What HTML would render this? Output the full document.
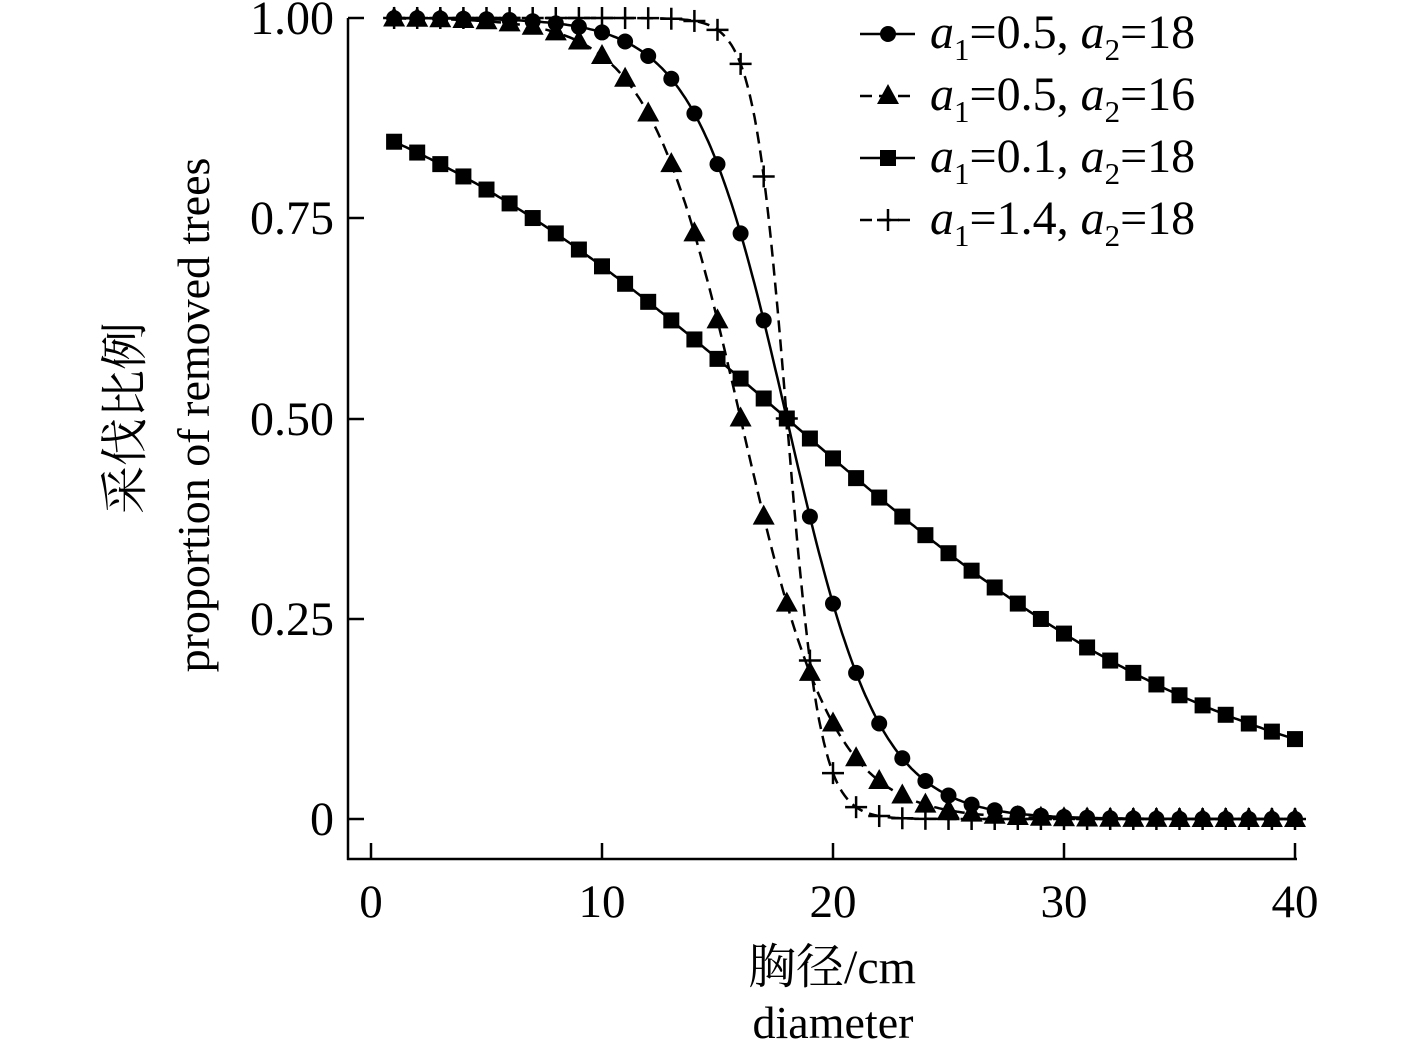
<!DOCTYPE html>
<html><head><meta charset="utf-8"><style>
html,body{margin:0;padding:0;background:#fff;}
svg{display:block;}
text{font-family:"Liberation Serif","Noto Serif CJK SC",serif;fill:#000;}
</style></head><body>
<svg id="s" width="1417" height="1043" xmlns="http://www.w3.org/2000/svg">
<g stroke="#000" stroke-width="2.5" fill="none">
<line x1="348" y1="18" x2="348" y2="860"/>
<line x1="347" y1="859" x2="1297" y2="859"/>
<line x1="348" y1="18" x2="364" y2="18"/>
<line x1="348" y1="218" x2="364" y2="218"/>
<line x1="348" y1="419" x2="364" y2="419"/>
<line x1="348" y1="619" x2="364" y2="619"/>
<line x1="348" y1="819" x2="364" y2="819"/>
<line x1="371" y1="859" x2="371" y2="843"/>
<line x1="602" y1="859" x2="602" y2="843"/>
<line x1="833" y1="859" x2="833" y2="843"/>
<line x1="1064" y1="859" x2="1064" y2="843"/>
<line x1="1295" y1="859" x2="1295" y2="843"/>
</g>
<g font-size="48" text-anchor="end">
<text x="334" y="34">1.00</text>
<text x="334" y="234">0.75</text>
<text x="334" y="435">0.50</text>
<text x="334" y="635">0.25</text>
<text x="334" y="835">0</text>
</g>
<g font-size="47" text-anchor="middle">
<text x="371" y="917">0</text>
<text x="602" y="917">10</text>
<text x="833" y="917">20</text>
<text x="1064" y="917">30</text>
<text x="1295" y="917">40</text>
<text x="832" y="983" font-size="48">胸径/cm</text>
<text x="833" y="1038" font-size="46">diameter</text>
</g>
<text transform="translate(141,418) rotate(-90)" font-size="48" text-anchor="middle">采伐比例</text>
<text transform="translate(209,415) rotate(-90)" font-size="46" text-anchor="middle">proportion of removed trees</text>
<g id="series"></g>
<g font-size="48" font-style="italic" id="leg"></g>
</svg>
<script>
var NS="http://www.w3.org/2000/svg",g=document.getElementById("series");
function X(d){return 371+d*23.1;}function Y(p){return 819-p*801;}
function el(t,a,par){var e=document.createElementNS(NS,t);for(var k in a)e.setAttribute(k,a[k]);(par||g).appendChild(e);return e;}
function marker(type,x,y,par){
 if(type=="c")el("circle",{cx:x,cy:y,r:8,fill:"#000"},par);
 else if(type=="t")el("polygon",{points:(x)+","+(y-12)+" "+(x-11)+","+(y+8)+" "+(x+11)+","+(y+8),fill:"#000"},par);
 else if(type=="s")el("rect",{x:x-8,y:y-8,width:16,height:16,fill:"#000"},par);
 else {el("line",{x1:x-11,y1:y,x2:x+11,y2:y,stroke:"#000","stroke-width":2.5},par);el("line",{x1:x,y1:y-11,x2:x,y2:y+11,stroke:"#000","stroke-width":2.5},par);}
}
var S=[[0.5,18,"c",""],[0.5,16,"t","12,7"],[0.1,18,"s",""],[1.4,18,"p","12,7"]];
S.forEach(function(s){
 var pts=[];for(var d=1;d<=40;d+=0.1){var p=1/(1+Math.exp(s[0]*(d-s[1])));pts.push(X(d).toFixed(1)+","+Y(p).toFixed(1));}
 var a={points:pts.join(" "),fill:"none",stroke:"#000","stroke-width":2.5};if(s[3])a["stroke-dasharray"]=s[3];
 el("polyline",a);
 for(var d=1;d<=40;d++){var p=1/(1+Math.exp(s[0]*(d-s[1])));marker(s[2],X(d),Y(p));}
});
var L=document.getElementById("leg");
var labs=[["0.5","18"],["0.5","16"],["0.1","18"],["1.4","18"]];
S.forEach(function(s,i){
 var y=34+i*62;
 var a={x1:860,y1:y,x2:915,y2:y,stroke:"#000","stroke-width":2.5};if(s[3])a["stroke-dasharray"]="12,7";
 el("line",a,L);marker(s[2],888,y,L);
 var t=el("text",{x:930,y:y+14},L);
 t.innerHTML='a<tspan font-size="31" dy="12" font-style="normal">1</tspan><tspan dy="-12" font-style="normal">='+labs[i][0]+', </tspan>a<tspan font-size="31" dy="12" font-style="normal">2</tspan><tspan dy="-12" font-style="normal">='+labs[i][1]+'</tspan>';
});
</script>
</body></html>
